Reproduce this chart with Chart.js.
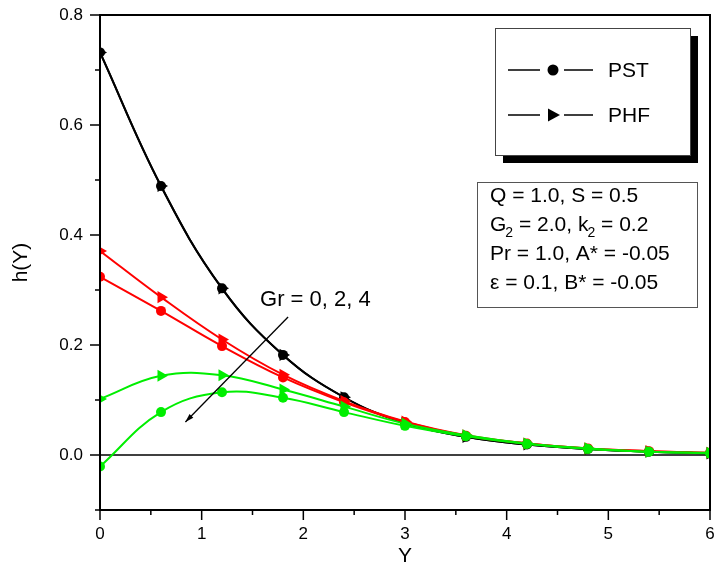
<!DOCTYPE html>
<html>
<head>
<meta charset="utf-8">
<script src="https://cdn.jsdelivr.net/npm/chart.js@4.4.0/dist/chart.umd.min.js"></script>
<style>
  body { margin: 0; background: #fff; }
  #wrap { width: 716px; height: 567px; position: relative; }
</style>
</head>
<body>
<div id="wrap"><canvas id="hChart"></canvas></div>
<script>
// Y positions of the markers
const yPos = [0, 0.6, 1.2, 1.8, 2.4, 3.0, 3.6, 4.2, 4.8, 5.4, 6.0];

// h(Y) for Gr = 0, 2, 4  (PST = circles, PHF = triangles)
const pstGr0 = [0.732, 0.489, 0.303, 0.182, 0.105, 0.058, 0.033, 0.019, 0.011, 0.006, 0.003];
const phfGr0 = [0.732, 0.489, 0.303, 0.182, 0.105, 0.058, 0.033, 0.019, 0.011, 0.006, 0.003];
const pstGr2 = [0.324, 0.262, 0.198, 0.141, 0.096, 0.060, 0.035, 0.021, 0.012, 0.007, 0.004];
const phfGr2 = [0.371, 0.287, 0.210, 0.146, 0.098, 0.061, 0.036, 0.021, 0.012, 0.007, 0.004];
const pstGr4 = [-0.021, 0.078, 0.114, 0.104, 0.078, 0.053, 0.034, 0.020, 0.011, 0.006, 0.003];
const phfGr4 = [0.102, 0.144, 0.145, 0.119, 0.088, 0.057, 0.036, 0.021, 0.012, 0.006, 0.004];

// ticks
const xMajor = [0, 1, 2, 3, 4, 5, 6];
const xMinor = [0.5, 1.5, 2.5, 3.5, 4.5, 5.5];
const yMajor = [0, 0.2, 0.4, 0.6, 0.8];
const yMinor = [-0.1, 0.1, 0.3, 0.5, 0.7];

const legendLabels = ['PST', 'PHF'];
const paramLines = [
    [['Q = 1.0, S = 0.5', '']],
    [['G', ''], ['2', 'sub'], [' = 2.0, k', ''], ['2', 'sub'], [' = 0.2', '']],
    [['Pr = 1.0, A* = -0.05', '']],
    [['\u03b5 = 0.1, B* = -0.05', '']],
];
const arrowLabel = 'Gr = 0, 2, 4';

const FONT = '"Liberation Sans", Arial, Helvetica, sans-serif';
const GREEN = '#00ee00';

function series(vals) {
    return yPos.map((x, i) => ({ x: x, y: vals[i] }));
}

function ds(vals, color, style) {
    return {
        data: series(vals),
        borderColor: color,
        backgroundColor: color,
        borderWidth: 2,
        pointStyle: style,
        pointRadius: style === 'triangle' ? 7 : 5,
        pointRotation: style === 'triangle' ? 90 : 0,
        pointBorderWidth: 0,
        tension: 0.4,
        clip: 0,
    };
}

// the scales must not push the plot frame inwards for their labels
function noScalePadding(s) {
    s.paddingTop = 0;
    s.paddingBottom = 0;
    s.paddingLeft = 0;
    s.paddingRight = 0;
}

function drawRich(ctx, parts, x, y) {
    let cx = x;
    parts.forEach(([txt, kind]) => {
        if (kind === 'sub') {
            ctx.font = '14px ' + FONT;
            ctx.fillText(txt, cx - 1, y + 8);
            cx += ctx.measureText(txt).width - 1;
        } else {
            ctx.font = '21px ' + FONT;
            ctx.fillText(txt, cx, y);
            cx += ctx.measureText(txt).width;
        }
    });
}

const decorPlugin = {
    id: 'decor',
    beforeDatasetsDraw(chart) {
        const { ctx, chartArea: a, scales: { y } } = chart;
        const y0 = y.getPixelForValue(0);
        ctx.save();
        ctx.strokeStyle = '#000';
        ctx.lineWidth = 1.5;
        ctx.beginPath();
        ctx.moveTo(a.left, y0);
        ctx.lineTo(a.right, y0);
        ctx.stroke();
        ctx.restore();
    },
    afterDatasetsDraw(chart) {
        const { ctx, chartArea: a, scales: { x, y } } = chart;
        ctx.save();
        ctx.strokeStyle = '#000';
        ctx.lineWidth = 2;
        ctx.strokeRect(a.left, a.top, a.right - a.left, a.bottom - a.top);
        ctx.lineWidth = 1.5;
        ctx.beginPath();
        yMajor.forEach(v => { const p = y.getPixelForValue(v); ctx.moveTo(a.left, p); ctx.lineTo(a.left - 10, p); });
        yMinor.forEach(v => { const p = y.getPixelForValue(v); ctx.moveTo(a.left, p); ctx.lineTo(a.left - 5, p); });
        xMajor.forEach(v => { const p = x.getPixelForValue(v); ctx.moveTo(p, a.bottom); ctx.lineTo(p, a.bottom + 10); });
        xMinor.forEach(v => { const p = x.getPixelForValue(v); ctx.moveTo(p, a.bottom); ctx.lineTo(p, a.bottom + 5); });
        ctx.stroke();
        ctx.restore();
    },
    afterDraw(chart) {
        const { ctx, scales: { x, y } } = chart;
        ctx.save();

        // arrow Gr = 0, 2, 4
        const x1 = x.getPixelForValue(1.85), y1 = y.getPixelForValue(0.251);
        const x2 = x.getPixelForValue(0.84), y2 = y.getPixelForValue(0.06);
        ctx.strokeStyle = '#000';
        ctx.fillStyle = '#000';
        ctx.lineWidth = 1.3;
        ctx.beginPath();
        ctx.moveTo(x1, y1);
        ctx.lineTo(x2, y2);
        ctx.stroke();
        const ang = Math.atan2(y2 - y1, x2 - x1);
        ctx.beginPath();
        ctx.moveTo(x2, y2);
        ctx.lineTo(x2 - 9 * Math.cos(ang - 0.3), y2 - 9 * Math.sin(ang - 0.3));
        ctx.lineTo(x2 - 9 * Math.cos(ang + 0.3), y2 - 9 * Math.sin(ang + 0.3));
        ctx.closePath();
        ctx.fill();
        ctx.font = '22px ' + FONT;
        ctx.textBaseline = 'middle';
        ctx.textAlign = 'left';
        ctx.fillText(arrowLabel, x.getPixelForValue(1.574), y.getPixelForValue(0.282));

        // legend box with shadow
        ctx.fillStyle = '#000';
        ctx.fillRect(503, 36, 195, 127);
        ctx.fillStyle = '#fff';
        ctx.fillRect(495, 28, 195, 127);
        ctx.strokeStyle = '#444';
        ctx.lineWidth = 1;
        ctx.strokeRect(495.5, 28.5, 195, 127);

        const rows = [70, 115];
        ctx.strokeStyle = '#000';
        ctx.fillStyle = '#000';
        ctx.lineWidth = 1.5;
        rows.forEach((ry, i) => {
            ctx.beginPath();
            ctx.moveTo(508, ry); ctx.lineTo(540, ry);
            ctx.moveTo(564, ry); ctx.lineTo(593, ry);
            ctx.stroke();
            ctx.beginPath();
            if (i === 0) {
                ctx.arc(553, ry, 5.5, 0, Math.PI * 2);
            } else {
                ctx.moveTo(560, ry);
                ctx.lineTo(548, ry - 6.5);
                ctx.lineTo(548, ry + 6.5);
                ctx.closePath();
            }
            ctx.fill();
            ctx.font = '21px ' + FONT;
            ctx.textBaseline = 'middle';
            ctx.fillText(legendLabels[i], 608, ry + 1);
        });

        // parameter box
        ctx.fillStyle = '#fff';
        ctx.fillRect(477, 182, 220, 125);
        ctx.strokeStyle = '#555';
        ctx.lineWidth = 1;
        ctx.strokeRect(477.5, 182.5, 220, 125);
        ctx.fillStyle = '#000';
        ctx.textBaseline = 'middle';
        [196, 225, 254, 283].forEach((ly, i) => drawRich(ctx, paramLines[i], 490, ly));

        ctx.restore();
    }
};

new Chart(document.querySelector('#hChart'), {
    type: 'line',
    data: {
        datasets: [
            ds(phfGr4, GREEN, 'triangle'),
            ds(pstGr4, GREEN, 'circle'),
            ds(phfGr2, '#ff0000', 'triangle'),
            ds(pstGr2, '#ff0000', 'circle'),
            ds(pstGr0, '#000000', 'circle'),
            ds(phfGr0, '#000000', 'triangle'),
        ]
    },
    options: {
        responsive: true,
        maintainAspectRatio: false,
        animation: false,
        events: [],
        layout: { autoPadding: false, padding: { top: 15, right: 6, left: 0, bottom: 0 } },
        scales: {
            x: {
                type: 'linear',
                min: 0,
                max: 6,
                afterBuildTicks: s => { s.ticks = xMajor.map(v => ({ value: v })); },
                afterFit: s => { s.height = 57; noScalePadding(s); },
                grid: { display: false, drawTicks: false },
                border: { display: false },
                ticks: { color: '#000', padding: 14, font: { family: FONT, size: 17 }, maxRotation: 0 },
                title: { display: true, text: 'Y', color: '#000', padding: 0, font: { family: FONT, size: 21, lineHeight: 1 } }
            },
            y: {
                min: -0.1,
                max: 0.8,
                afterBuildTicks: s => { s.ticks = yMajor.map(v => ({ value: v })); },
                afterFit: s => { s.width = 100; noScalePadding(s); },
                grid: { display: false, drawTicks: false },
                border: { display: false },
                ticks: {
                    color: '#000',
                    padding: 17,
                    font: { family: FONT, size: 17 },
                    callback: v => v.toFixed(1)
                },
                title: { display: true, text: 'h(Y)', color: '#000', padding: { top: 11, bottom: 0 }, font: { family: FONT, size: 21, lineHeight: 1 } }
            }
        },
        plugins: {
            legend: { display: false },
            tooltip: { enabled: false }
        }
    },
    plugins: [decorPlugin]
});
</script>
</body>
</html>
